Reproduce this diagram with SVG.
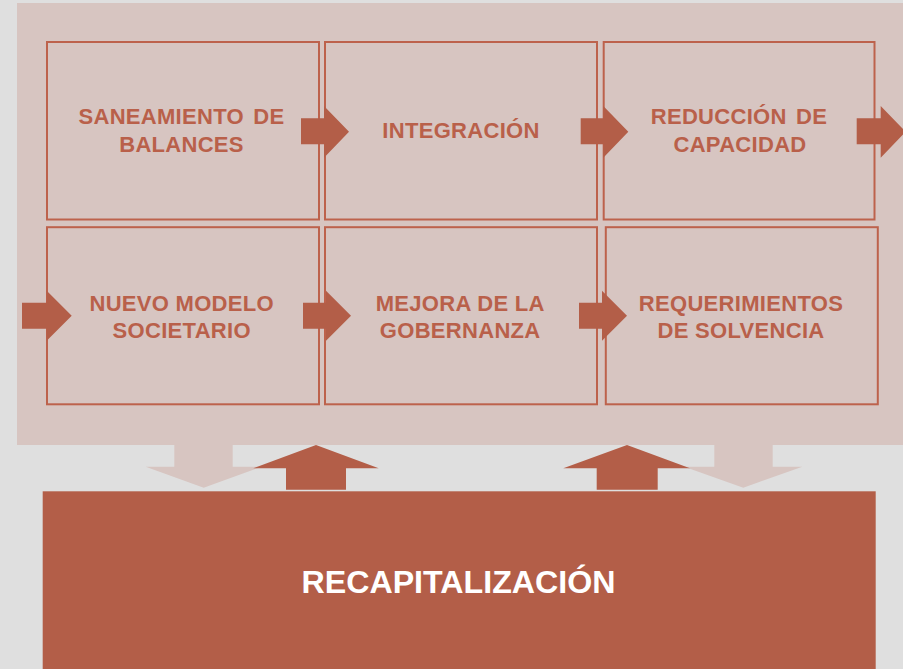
<svg xmlns="http://www.w3.org/2000/svg" width="903" height="669" viewBox="0 0 903 669">
<style>
.box{fill:none;stroke:#bd624c;stroke-width:2}
.lbl{font-family:"Liberation Sans",Arial,sans-serif;font-weight:bold;font-size:22px;letter-spacing:0.3px;fill:#b9604a;text-anchor:middle}
.ws{word-spacing:3px}
.dark{fill:#b35e48}
.light{fill:#d7c5c1}
.big{font-family:"Liberation Sans",Arial,sans-serif;font-weight:bold;font-size:32.2px;fill:#ffffff;text-anchor:middle}
</style>
<rect x="0" y="0" width="903" height="669" fill="#dfdfdf"/>
<rect id="panel" x="17" y="3" width="886" height="442" fill="#d7c5c1"/>
<g id="connectors">
  <polygon class="light" points="174.3,440 232.7,440 232.7,466.7 261.7,466.7 203.7,487.7 145.7,466.7 174.3,466.7"/>
  <polygon class="light" points="714.3,440 772.7,440 772.7,466.7 802.3,466.7 743.3,487.7 684.3,466.7 714.3,466.7"/>
  <polygon class="dark" points="316,445 378.7,468.3 346,468.3 346,489.7 286,489.7 286,468.3 253.3,468.3"/>
  <polygon class="dark" points="627,445 690,468.3 657.7,468.3 657.7,489.7 596.7,489.7 596.7,468.3 563.3,468.3"/>
</g>
<g id="n1"><rect class="box" x="47" y="42" width="272" height="177.5"/>
<text class="lbl ws" x="181.5" y="124">SANEAMIENTO DE</text><text class="lbl" x="181.5" y="152.3">BALANCES</text></g>
<g id="n2"><rect class="box" x="325" y="42" width="272" height="177.5"/>
<text class="lbl" x="461" y="138.3">INTEGRACIÓN</text></g>
<g id="n3"><rect class="box" x="603.7" y="42" width="270.8" height="177.5"/>
<text class="lbl ws" x="739" y="124.3">REDUCCIÓN DE</text><text class="lbl" x="740" y="152.3">CAPACIDAD</text></g>
<g id="n4"><rect class="box" x="47" y="227.2" width="272" height="177.1"/>
<text class="lbl" x="181.7" y="311">NUEVO MODELO</text><text class="lbl" x="181.7" y="338.3">SOCIETARIO</text></g>
<g id="n5"><rect class="box" x="325" y="227.2" width="272" height="177.1"/>
<text class="lbl" x="460.2" y="311">MEJORA DE LA</text><text class="lbl" x="460.2" y="337.7">GOBERNANZA</text></g>
<g id="n6"><rect class="box" x="605.8" y="227.2" width="272" height="177.1"/>
<text class="lbl" x="741" y="311">REQUERIMIENTOS</text><text class="lbl" x="741" y="338">DE SOLVENCIA</text></g>
<g id="flow-arrows">
  <polygon class="dark" points="301,118.3 324,118.3 324,106 349,131.7 324,157.7 324,144.3 301,144.3"/>
  <polygon class="dark" points="580.7,118.3 603.3,118.3 603.3,106 628.3,131.7 603.3,157.7 603.3,144.3 580.7,144.3"/>
  <polygon class="dark" points="856.7,118.3 880.7,118.3 880.7,106 905.7,131.7 880.7,157.7 880.7,144.3 856.7,144.3"/>
  <polygon class="dark" points="22,302.7 46.7,302.7 46.7,290.7 71.7,315.7 46.7,340.7 46.7,328.7 22,328.7"/>
  <polygon class="dark" points="303,302.7 326,302.7 326,290.7 351,315.7 326,340.7 326,328.7 303,328.7"/>
  <polygon class="dark" points="579,302.7 602,302.7 602,290.7 627,315.7 602,340.7 602,328.7 579,328.7"/>
</g>
<g id="recap"><rect x="42.7" y="491.3" width="833" height="180" class="dark"/>
<text class="big" x="458.5" y="593">RECAPITALIZACIÓN</text></g>
</svg>
